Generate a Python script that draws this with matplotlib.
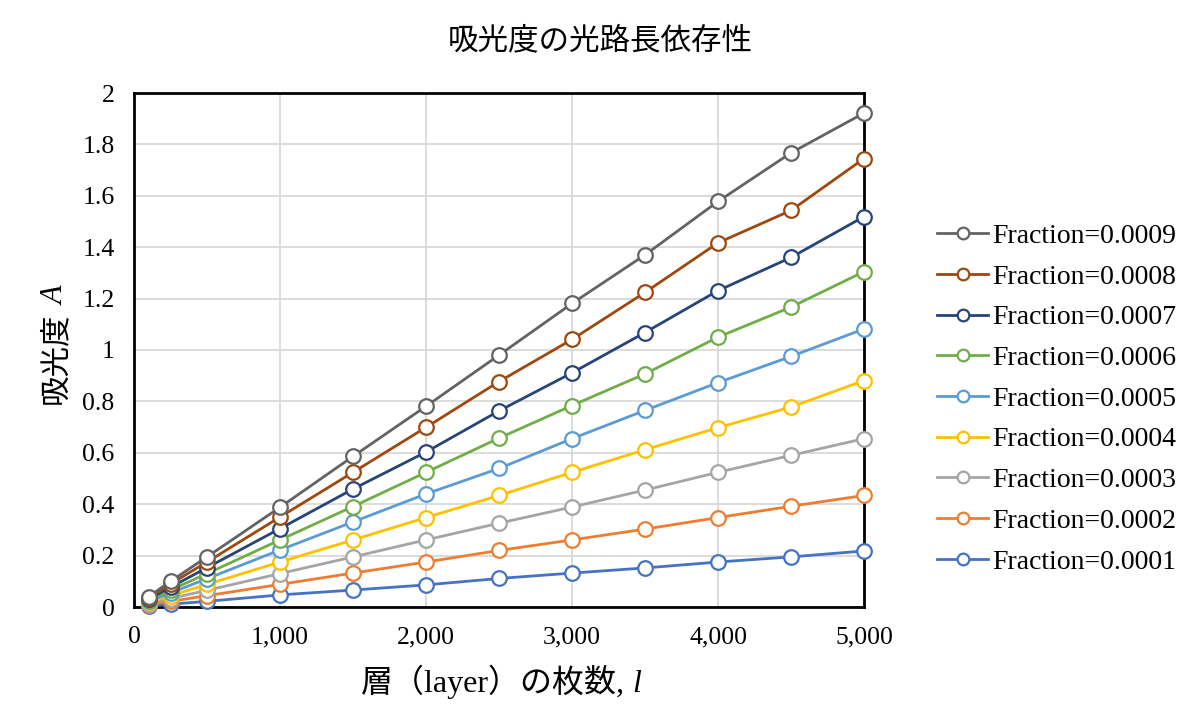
import matplotlib
matplotlib.use("Agg")
import matplotlib.pyplot as plt
from matplotlib.ticker import FuncFormatter, MultipleLocator

FAM = ['Liberation Serif', 'Noto Sans CJK JP']
plt.rcParams['font.family'] = FAM

layers = [100, 250, 500, 1000, 1500, 2000, 2500, 3000, 3500, 4000, 4500, 5000]

frac_0001 = [0.004, 0.011, 0.022, 0.047, 0.066, 0.086, 0.111, 0.132, 0.152, 0.175, 0.195, 0.218]
frac_0002 = [0.009, 0.022, 0.044, 0.088, 0.132, 0.175, 0.220, 0.261, 0.303, 0.348, 0.392, 0.434]
frac_0003 = [0.013, 0.033, 0.065, 0.130, 0.195, 0.261, 0.326, 0.389, 0.455, 0.524, 0.590, 0.655]
frac_0004 = [0.018, 0.044, 0.088, 0.175, 0.261, 0.348, 0.434, 0.524, 0.612, 0.698, 0.778, 0.881]
frac_0005 = [0.022, 0.055, 0.110, 0.222, 0.331, 0.440, 0.539, 0.655, 0.765, 0.873, 0.975, 1.082]
frac_0006 = [0.026, 0.066, 0.130, 0.261, 0.391, 0.524, 0.657, 0.784, 0.907, 1.050, 1.167, 1.305]
frac_0007 = [0.030, 0.077, 0.153, 0.305, 0.459, 0.603, 0.763, 0.911, 1.068, 1.231, 1.360, 1.519]
frac_0008 = [0.035, 0.090, 0.175, 0.350, 0.524, 0.699, 0.877, 1.041, 1.224, 1.417, 1.543, 1.745]
frac_0009 = [0.040, 0.100, 0.195, 0.388, 0.586, 0.781, 0.980, 1.181, 1.370, 1.578, 1.767, 1.922]

series_labels = ['Fraction=0.0001', 'Fraction=0.0002', 'Fraction=0.0003',
                 'Fraction=0.0004', 'Fraction=0.0005', 'Fraction=0.0006',
                 'Fraction=0.0007', 'Fraction=0.0008', 'Fraction=0.0009']
series_values = [frac_0001, frac_0002, frac_0003, frac_0004, frac_0005,
                 frac_0006, frac_0007, frac_0008, frac_0009]
colors = ['#4472C4', '#ED7D31', '#A5A5A5', '#FFC000', '#5B9BD5',
          '#70AD47', '#264478', '#9E480E', '#636363']

title = '吸光度の光路長依存性'
xlabel_parts = [('層（layer）の枚数,', False), ('l', True)]
ylabel_parts = [('吸光度', False), ('A', True)]

W, H = 1200, 728
fig = plt.figure(figsize=(W / 100, H / 100), dpi=100)
ax = fig.add_axes([134 / W, 1 - 607 / H, 730 / W, 514 / H])

handles = []
for lab, vals, c in zip(series_labels, series_values, colors):
    h, = ax.plot(layers, vals, color=c, lw=2.0, marker='o', markersize=10.5,
                 markerfacecolor='white', markeredgecolor=c, markeredgewidth=1.6,
                 label=lab, zorder=3, clip_on=False)
    handles.append(h)

ax.set_xlim(0, 5000)
ax.set_ylim(0, 2)
ax.xaxis.set_major_locator(MultipleLocator(1000))
ax.yaxis.set_major_locator(MultipleLocator(0.2))
ax.xaxis.set_major_formatter(FuncFormatter(lambda v, p: f'{v:,.0f}'))
ax.yaxis.set_major_formatter(FuncFormatter(lambda v, p: ('%.1f' % v).rstrip('0').rstrip('.')))
ax.grid(True, color='#D9D9D9', lw=1.3, zorder=0)
ax.set_axisbelow(True)
ax.tick_params(length=0, labelsize=18.5)
ax.tick_params(axis='x', pad=14)
ax.tick_params(axis='y', pad=14)
for s in ax.spines.values():
    s.set_color('black')
    s.set_linewidth(2)

fig.text(0.5, 1 - 42 / H, title, fontsize=22, ha='center', va='center')

renderer = fig.canvas.get_renderer()


def xlabel_draw(parts, center_x, baseline, fontsize, gap):
    texts, lengths = [], []
    for s, ital in parts:
        t = fig.text(0, 0, s, fontsize=fontsize, ha='left', va='baseline',
                     style='italic' if ital else 'normal')
        lengths.append(t.get_window_extent(renderer).width)
        texts.append(t)
    total = sum(lengths) + gap * (len(parts) - 1)
    x = center_x - total / 2
    for t, L in zip(texts, lengths):
        t.set_position((x / W, 1 - baseline / H))
        x += L + gap


def ylabel_draw(parts, center_y, base_x, fontsize, gap):
    texts, lengths = [], []
    for s, ital in parts:
        t = fig.text(0, 0, s, fontsize=fontsize, rotation=90,
                     rotation_mode='anchor', ha='left', va='baseline',
                     style='italic' if ital else 'normal')
        lengths.append(t.get_window_extent(renderer).height)
        texts.append(t)
    total = sum(lengths) + gap * (len(parts) - 1)
    y = center_y + total / 2
    for t, L in zip(texts, lengths):
        t.set_position((base_x / W, 1 - y / H))
        y -= L + gap


xlabel_draw(xlabel_parts, 501, 692, 23, 8)
ylabel_draw(ylabel_parts, 345, 64, 22, 8)

leg = ax.legend(handles[::-1], series_labels[::-1], loc='center left',
                bbox_to_anchor=(937 / W, 1 - 399 / H), bbox_transform=fig.transFigure,
                frameon=False, fontsize=20, handlelength=1.85, handletextpad=0.15,
                labelspacing=0.55, markerscale=0.8, borderaxespad=0, borderpad=0)

fig.savefig('out.png', dpi=100)
